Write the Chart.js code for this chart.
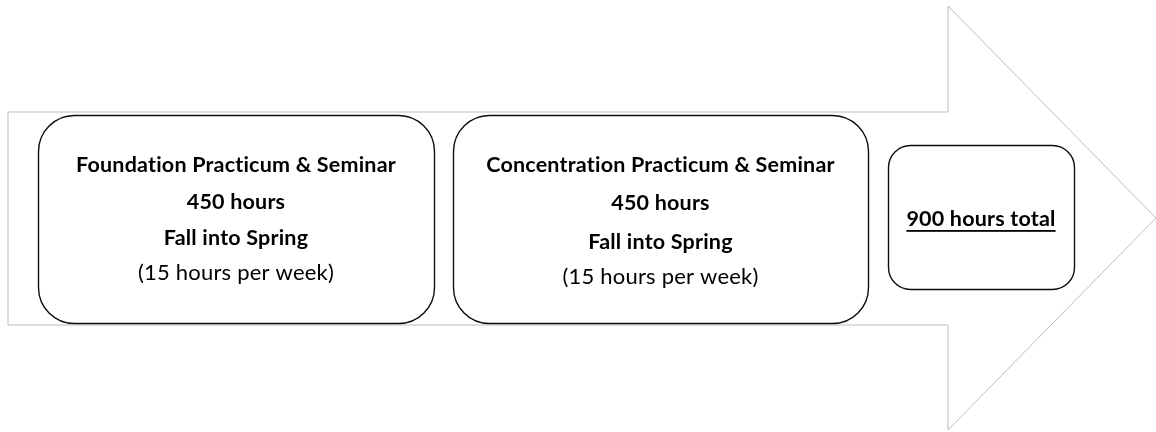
<!DOCTYPE html>
<html>
<head>
<meta charset="utf-8">
<script src="https://cdn.jsdelivr.net/npm/chart.js@4.4.1/dist/chart.umd.min.js"></script>
<style>
  html, body { margin: 0; padding: 0; background: #ffffff; }
  #wrap { width: 1156px; height: 432px; position: relative; }
</style>
</head>
<body>
<div id="wrap"><canvas id="flow"></canvas></div>
<script>
// Diagram content
const stageTitles = ["Foundation Practicum & Seminar", "Concentration Practicum & Seminar"];
const stageHours = [450, 450];
const stageTerms = ["Fall into Spring", "Fall into Spring"];
const stagePace = [15, 15];
const totalHours = stageHours.reduce((a, b) => a + b, 0);

// Arrow outline (x, y in page units)
const arrowX = [8, 948, 948, 1156, 948, 948, 8, 8];
const arrowY = [112, 112, 6, 218, 430, 325, 325, 112];

// Box layout: left, top, right, bottom, corner radius
const boxes = [
  { l: 38, t: 115, r: 434, b: 323, rad: 36 },
  { l: 453, t: 115, r: 868, b: 323, rad: 36 },
  { l: 888, t: 145, r: 1074, b: 289, rad: 22 },
];
const lineY = [
  [165, 202, 238, 273],
  [165, 203, 242, 277],
];

const FONT = "Lato, 'Open Sans', sans-serif";

const boxPlugin = {
  id: "boxes",
  afterDatasetsDraw(chart) {
    const { ctx, scales } = chart;
    const sx = scales.x, sy = scales.y;
    ctx.save();
    boxes.forEach((bx) => {
      const x0 = sx.getPixelForValue(bx.l), x1 = sx.getPixelForValue(bx.r);
      const y0 = sy.getPixelForValue(bx.t), y1 = sy.getPixelForValue(bx.b);
      ctx.beginPath();
      ctx.roundRect(x0 + 0.5, y0 + 0.5, x1 - x0, y1 - y0, bx.rad);
      ctx.fillStyle = "#ffffff";
      ctx.fill();
      ctx.lineWidth = 1.4;
      ctx.strokeStyle = "#0d0d0d";
      ctx.stroke();
    });

    ctx.fillStyle = "#000000";
    ctx.textAlign = "center";
    ctx.textBaseline = "middle";
    ctx.letterSpacing = "0.2px"; // also keeps "ti" from turning into a ligature
    stageTitles.forEach((title, i) => {
      const bx = boxes[i];
      const cx = sx.getPixelForValue((bx.l + bx.r) / 2);
      const ys = lineY[i].map((v) => sy.getPixelForValue(v));
      ctx.font = "bold 21.5px " + FONT;
      ctx.fillText(title, cx, ys[0]);
      ctx.fillText(stageHours[i] + " hours", cx, ys[1]);
      ctx.fillText(stageTerms[i], cx, ys[2]);
      ctx.font = "22px " + FONT;
      ctx.fillText("(" + stagePace[i] + " hours per week)", cx, ys[3]);
    });

    // total box, underlined
    const tb = boxes[2];
    const tcx = sx.getPixelForValue((tb.l + tb.r) / 2);
    const tcy = sy.getPixelForValue(219);
    const label = totalHours + " hours total";
    ctx.font = "bold 21.5px " + FONT;
    ctx.fillText(label, tcx, tcy);
    const w = ctx.measureText(label).width;
    ctx.fillRect(tcx - w / 2, tcy + 11, w, 1.8);
    ctx.restore();
  },
};

new Chart(document.getElementById("flow"), {
  type: "line",
  data: {
    datasets: [
      {
        label: "arrow",
        data: arrowX.map((x, i) => ({ x: x, y: arrowY[i] })),
        borderColor: "#bdbdbd",
        borderWidth: 1,
        backgroundColor: "#ffffff",
        fill: false,
        tension: 0,
        pointRadius: 0,
      },
    ],
  },
  options: {
    responsive: true,
    maintainAspectRatio: false,
    animation: false,
    layout: { padding: 0 },
    plugins: { legend: { display: false }, tooltip: { enabled: false } },
    scales: {
      x: { type: "linear", min: 0, max: 1156, display: false },
      y: { type: "linear", min: 0, max: 432, reverse: true, display: false },
    },
  },
  plugins: [boxPlugin],
});
</script>
</body>
</html>
